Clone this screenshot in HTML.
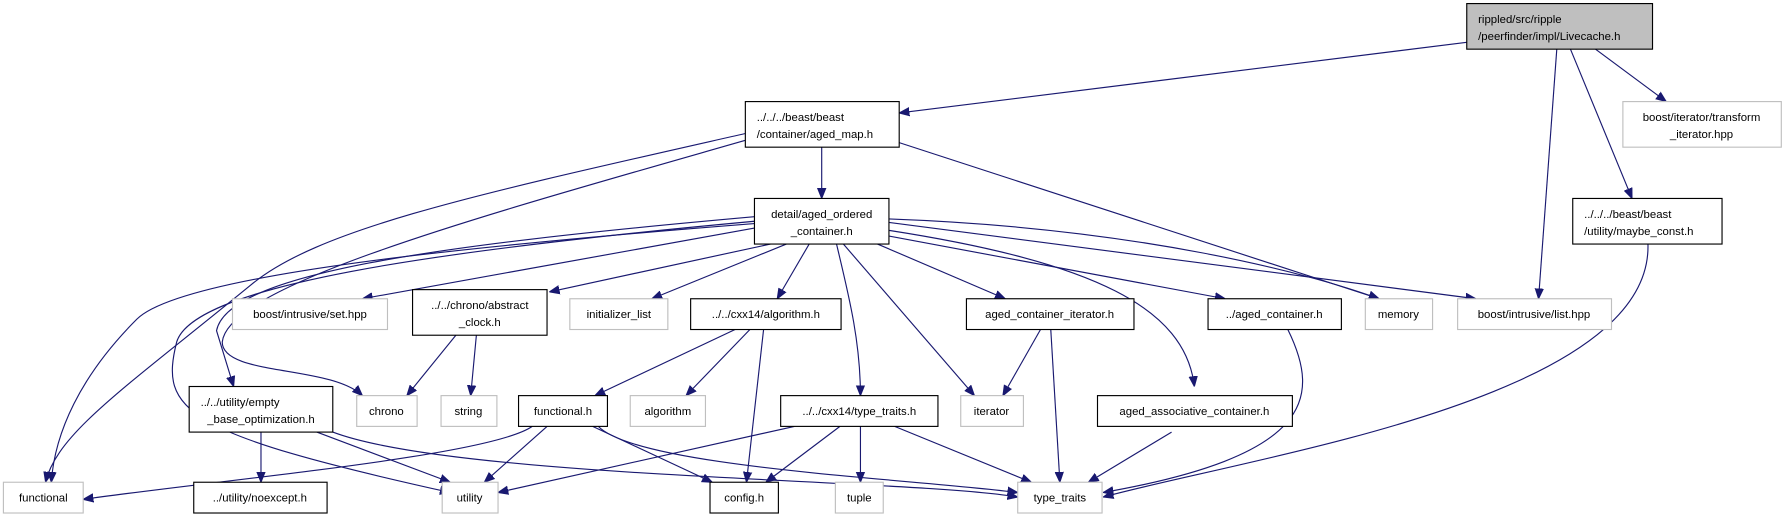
<!DOCTYPE html>
<html><head><meta charset="utf-8"><style>
html,body{margin:0;padding:0;background:#fff;}
svg{display:block;}
text{font-family:"Liberation Sans",Arial,sans-serif;font-size:10px;fill:#000;text-anchor:middle;}
.n{fill:#fff;stroke:#000;stroke-width:1;}
.g{fill:#fff;stroke:#bfbfbf;stroke-width:1;}
.e{fill:none;stroke:#191970;stroke-width:1;}
</style></head><body>
<svg width="1787" height="520" viewBox="0 0 1568 456" xmlns="http://www.w3.org/2000/svg">
<defs><marker id="a" viewBox="0 0 10 10" refX="10" refY="5" markerWidth="9" markerHeight="9" markerUnits="userSpaceOnUse" orient="auto"><path d="M0,1 L10,5 L0,9 z" fill="#191970" stroke="#191970"/></marker></defs>
<g marker-end="url(#a)">
<path class="e" d="M1287,37 L789,99"/>
<path class="e" d="M1400,43 L1462,89"/>
<path class="e" d="M1366,43 L1350,262"/>
<path class="e" d="M1378,43 L1432,174"/>
<path class="e" d="M721,129 L721,174"/>
<path class="e" d="M654,117 C420,170 280,200 220,250 C110,340 50,380 40,423"/>
<path class="e" d="M654,123 C420,190 200,250 195,300 C195,330 290,320 318,347"/>
<path class="e" d="M789,125 L1210,262"/>
<path class="e" d="M662,196 C420,215 160,240 120,280 C70,330 48,380 45,423"/>
<path class="e" d="M662,194 C380,220 170,250 155,300 C140,360 160,380 395,432"/>
<path class="e" d="M662,190 C380,215 200,240 190,290 L205,339"/>
<path class="e" d="M662,200 L318,262"/>
<path class="e" d="M676,214 L482,256"/>
<path class="e" d="M690,214 L572,262"/>
<path class="e" d="M710,214 L682,262"/>
<path class="e" d="M734,214 C745,260 755,300 755,347"/>
<path class="e" d="M740,214 L855,347"/>
<path class="e" d="M770,214 L882,262"/>
<path class="e" d="M780,202 C960,230 1040,270 1048,339"/>
<path class="e" d="M780,207 L1075,262"/>
<path class="e" d="M780,192 C1000,200 1150,240 1210,262"/>
<path class="e" d="M780,195 L1295,262"/>
<path class="e" d="M400,294 L357,347"/>
<path class="e" d="M418,294 L413,347"/>
<path class="e" d="M645,289 L522,347"/>
<path class="e" d="M658,289 L602,347"/>
<path class="e" d="M670,289 L655,423"/>
<path class="e" d="M913,289 L880,347"/>
<path class="e" d="M922,289 L930,423"/>
<path class="e" d="M1130,289 C1160,350 1150,400 968,432"/>
<path class="e" d="M1446,214 C1450,350 1100,400 968,436"/>
<path class="e" d="M229,379 L229,423"/>
<path class="e" d="M278,379 L395,423"/>
<path class="e" d="M292,379 C400,420 800,420 893,436"/>
<path class="e" d="M467,374 C430,400 200,420 73,438"/>
<path class="e" d="M480,374 L425,423"/>
<path class="e" d="M520,374 L625,423"/>
<path class="e" d="M525,374 C560,410 800,420 893,432"/>
<path class="e" d="M697,374 L437,432"/>
<path class="e" d="M737,374 L672,423"/>
<path class="e" d="M755,374 L755,423"/>
<path class="e" d="M785,374 L905,423"/>
<path class="e" d="M1028,379 L955,423"/>
</g>
<!-- nodes -->
<rect x="1287" y="3" width="163" height="40" fill="#bfbfbf" stroke="#000"/>
<text x="1297" y="20" style="text-anchor:start">rippled/src/ripple</text>
<text x="1297" y="35" style="text-anchor:start">/peerfinder/impl/Livecache.h</text>

<rect class="n" x="654" y="89" width="135" height="40"/>
<text x="664" y="106" style="text-anchor:start">../../../beast/beast</text>
<text x="664" y="121" style="text-anchor:start">/container/aged_map.h</text>

<rect class="g" x="1424" y="89" width="139" height="40"/>
<text x="1493" y="106">boost/iterator/transform</text>
<text x="1493" y="121">_iterator.hpp</text>

<rect class="n" x="662" y="174" width="118" height="40"/>
<text x="721" y="191">detail/aged_ordered</text>
<text x="721" y="206">_container.h</text>

<rect class="n" x="1380" y="174" width="131" height="40"/>
<text x="1390" y="191" style="text-anchor:start">../../../beast/beast</text>
<text x="1390" y="206" style="text-anchor:start">/utility/maybe_const.h</text>

<rect class="g" x="204" y="262" width="136" height="27"/><text x="272" y="279">boost/intrusive/set.hpp</text>
<rect class="n" x="362" y="254" width="118" height="40"/><text x="421" y="271">../../chrono/abstract</text><text x="421" y="286">_clock.h</text>
<rect class="g" x="500" y="262" width="86" height="27"/><text x="543" y="279">initializer_list</text>
<rect class="n" x="606" y="262" width="132" height="27"/><text x="672" y="279">../../cxx14/algorithm.h</text>
<rect class="n" x="848" y="262" width="147" height="27"/><text x="921" y="279">aged_container_iterator.h</text>
<rect class="n" x="1060" y="262" width="117" height="27"/><text x="1118" y="279">../aged_container.h</text>
<rect class="g" x="1198" y="262" width="59" height="27"/><text x="1227" y="279">memory</text>
<rect class="g" x="1279" y="262" width="135" height="27"/><text x="1346" y="279">boost/intrusive/list.hpp</text>

<rect class="n" x="166" y="339" width="126" height="40"/><text x="176" y="356" style="text-anchor:start">../../utility/empty</text><text x="229" y="371">_base_optimization.h</text>
<rect class="g" x="313" y="347" width="53" height="27"/><text x="339" y="364">chrono</text>
<rect class="g" x="387" y="347" width="49" height="27"/><text x="411" y="364">string</text>
<rect class="n" x="455" y="347" width="78" height="27"/><text x="494" y="364">functional.h</text>
<rect class="g" x="553" y="347" width="66" height="27"/><text x="586" y="364">algorithm</text>
<rect class="n" x="685" y="347" width="138" height="27"/><text x="754" y="364">../../cxx14/type_traits.h</text>
<rect class="g" x="843" y="347" width="55" height="27"/><text x="870" y="364">iterator</text>
<rect class="n" x="963" y="347" width="171" height="27"/><text x="1048" y="364">aged_associative_container.h</text>

<rect class="g" x="3" y="423" width="70" height="27"/><text x="38" y="440">functional</text>
<rect class="n" x="170" y="423" width="117" height="27"/><text x="228" y="440">../utility/noexcept.h</text>
<rect class="g" x="388" y="423" width="49" height="27"/><text x="412" y="440">utility</text>
<rect class="n" x="623" y="423" width="60" height="27"/><text x="653" y="440">config.h</text>
<rect class="g" x="733" y="423" width="42" height="27"/><text x="754" y="440">tuple</text>
<rect class="g" x="893" y="423" width="74" height="27"/><text x="930" y="440">type_traits</text>
</svg>
</body></html>
